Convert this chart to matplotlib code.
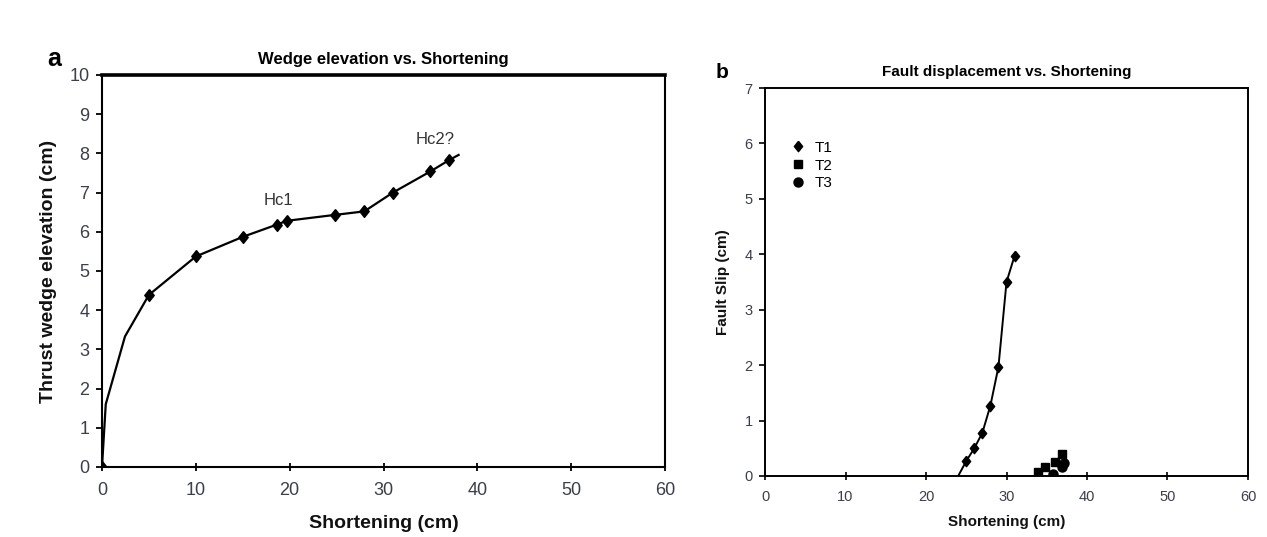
import matplotlib
matplotlib.use("Agg")
import matplotlib.pyplot as plt
from matplotlib import font_manager

# Wedge elevation vs. shortening (panel a)
wedge_short = [0, 0.4, 2.45, 5.0, 10.0, 15.0, 18.6, 19.7, 24.8, 27.95, 31.0, 35.0, 37.0, 38.0]
wedge_elev = [0, 1.6, 3.33, 4.39, 5.37, 5.87, 6.18, 6.28, 6.43, 6.52, 7.0, 7.54, 7.83, 7.96]
wedge_marked = [0, 3, 4, 5, 6, 7, 8, 9, 10, 11, 12]

# Fault slip vs. shortening (panel b)
t1_short = [24.0, 25.0, 26.0, 27.0, 28.0, 29.0, 30.0, 31.0]
t1_slip = [0.0, 0.27, 0.5, 0.78, 1.27, 1.97, 3.5, 3.97]
t2_short = [33.9, 34.8, 36.0, 36.9]
t2_slip = [0.07, 0.17, 0.25, 0.4]
t3_short = [35.8, 36.9, 37.2]
t3_slip = [0.04, 0.17, 0.24]

xticks = [0, 10, 20, 30, 40, 50, 60]
yticks_a = list(range(0, 11))
yticks_b = list(range(0, 8))

names = {f.name for f in font_manager.fontManager.ttflist}
family = "Liberation Sans Narrow" if "Liberation Sans Narrow" in names else "Liberation Sans"
plt.rcParams["font.family"] = [family, "DejaVu Sans"]

tick_color = "#3a3f4a"
# slightly tall diamond used for the data points
diamond = [(0, 1), (0.8, 0), (0, -1), (-0.8, 0), (0, 1)]

fig = plt.figure(figsize=(12.67, 5.37), dpi=100)

# ---- panel a ----
ax = fig.add_axes([0.0805, 0.1304, 0.4444, 0.7300])
ax.plot(wedge_short, wedge_elev, color="black", lw=1.6, marker=diamond, ms=8.5,
        markevery=wedge_marked, mfc="black", mec="black")
ax.set_xlim(0, 60)
ax.set_ylim(0, 10)
ax.set_xticks(xticks)
ax.set_yticks(yticks_a)
ax.tick_params(axis="x", direction="inout", length=6, width=1.3, labelsize=13,
               labelcolor=tick_color, pad=8)
ax.tick_params(axis="y", direction="out", length=4, width=1.3, labelsize=13,
               labelcolor=tick_color, pad=5)
for side in ["left", "bottom", "right"]:
    ax.spines[side].set_linewidth(1.5)
ax.spines["top"].set_linewidth(2.6)
ax.set_xlabel("Shortening (cm)", fontsize=14, fontweight="bold", labelpad=11, color="#111111")
ax.set_ylabel("Thrust wedge elevation (cm)", fontsize=14, fontweight="bold", labelpad=9, color="#111111")
ax.set_title("Wedge elevation vs. Shortening", fontsize=12, fontweight="bold", pad=8)
ax.text(18.8, 6.6, "Hc1", fontsize=12, color="#333333", ha="center", va="bottom")
ax.text(35.5, 8.15, "Hc2?", fontsize=12, color="#333333", ha="center", va="bottom")
fig.text(0.037, 0.878, "a", fontsize=18, fontweight="bold")

# ---- panel b ----
bx = fig.add_axes([0.6038, 0.1136, 0.3812, 0.7225])
bx.plot(t1_short, t1_slip, color="black", lw=1.4, marker=diamond, ms=7.5,
        markevery=list(range(1, len(t1_short))), label="T1")
bx.plot(t2_short, t2_slip, ls="none", color="black", marker="s", ms=5.5, label="T2")
bx.plot(t3_short, t3_slip, ls="none", color="black", marker="o", ms=6.5, label="T3")
bx.set_xlim(0, 60)
bx.set_ylim(0, 7)
bx.set_xticks(xticks)
bx.set_yticks(yticks_b)
bx.tick_params(axis="x", direction="inout", length=6, width=1.2, labelsize=10.5,
               labelcolor=tick_color, pad=7)
bx.tick_params(axis="y", direction="out", length=4, width=1.2, labelsize=10.5,
               labelcolor=tick_color, pad=5)
for side in ["left", "bottom", "right", "top"]:
    bx.spines[side].set_linewidth(1.4)
bx.set_xlabel("Shortening (cm)", fontsize=11, fontweight="bold", labelpad=8, color="#111111")
bx.set_ylabel("Fault Slip (cm)", fontsize=11, fontweight="bold", labelpad=10, color="#111111")
bx.set_title("Fault displacement vs. Shortening", fontsize=11, fontweight="bold", pad=9)
leg = bx.legend(loc="upper left", bbox_to_anchor=(0.04, 0.88), frameon=False,
                fontsize=11, handlelength=1.0, handletextpad=0.6, labelspacing=0.25,
                borderaxespad=0)
for h in leg.legend_handles:
    h.set_linestyle("none")
fig.text(0.565, 0.855, "b", fontsize=15, fontweight="bold")

fig.savefig("out.png", dpi=100)
